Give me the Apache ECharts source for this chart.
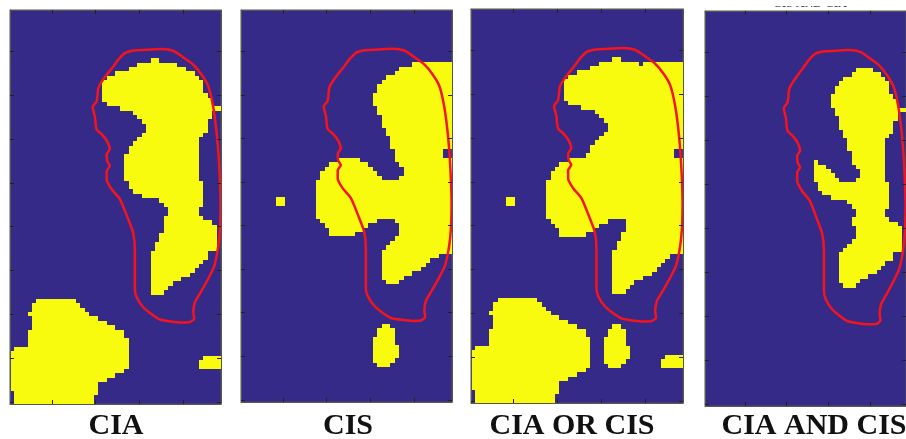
<!DOCTYPE html>
<html>
<head>
<meta charset="utf-8">
<script src="https://cdn.jsdelivr.net/npm/echarts@6/dist/echarts.min.js"></script>
<style>
html,body{margin:0;padding:0;background:#fff}
#main{width:906px;height:439px}
</style>
</head>
<body>
<div id="main"></div>
<script>
// image size in pixels (columns x rows)
var nCols = 48, nRows = 90;
var panelTitles = ['CIA', 'CIS', 'CIA OR CIS', 'CIA AND CIS'];
var xTicks = [10, 20, 30, 40];
var yTicks = [10, 20, 30, 40, 50, 60, 70, 80, 90];

// yellow runs: [rowFrom, rowTo, colFrom, colTo]
var ciaRuns = [
    [12, 12, 33, 34], [13, 13, 30, 38], [14, 14, 28, 40], [15, 15, 25, 42],
    [16, 16, 23, 43], [17, 19, 22, 44], [20, 20, 22, 45], [21, 21, 22, 46],
    [22, 22, 23, 46], [23, 23, 26, 48], [24, 24, 29, 46], [25, 25, 30, 46],
    [26, 26, 31, 45], [27, 28, 32, 45], [29, 29, 31, 44], [30, 30, 30, 43],
    [31, 31, 29, 43], [32, 33, 28, 43], [34, 39, 27, 43], [40, 41, 28, 44],
    [42, 42, 29, 44], [43, 43, 31, 44], [44, 44, 35, 44], [45, 45, 36, 44],
    [46, 47, 37, 43], [48, 48, 36, 44], [49, 49, 36, 46], [50, 51, 36, 47],
    [52, 53, 35, 47], [54, 55, 34, 47], [56, 57, 33, 45], [58, 58, 33, 44],
    [59, 59, 33, 43], [60, 60, 33, 42], [61, 61, 33, 41], [62, 62, 33, 39],
    [63, 63, 33, 37], [64, 64, 33, 36], [65, 65, 33, 35],
    // lower left blob
    [67, 67, 7, 15], [68, 68, 6, 16], [69, 69, 6, 17], [70, 70, 5, 18],
    [71, 71, 6, 20], [72, 72, 6, 22], [73, 73, 6, 24], [74, 75, 5, 26],
    [76, 77, 5, 27], [78, 78, 2, 27], [79, 82, 1, 27], [83, 83, 1, 26],
    [84, 84, 1, 24], [85, 85, 1, 22], [86, 87, 1, 20], [88, 88, 2, 20],
    [89, 90, 2, 19],
    // small patch bottom right
    [80, 80, 45, 48], [81, 82, 44, 48]
];

var cisRuns = [
    [13, 13, 40, 48], [14, 14, 37, 48], [15, 15, 36, 48], [16, 16, 34, 48],
    [17, 17, 33, 48], [18, 19, 32, 48], [20, 22, 31, 48], [23, 24, 32, 48],
    [25, 27, 33, 48], [28, 29, 34, 48], [30, 32, 35, 48], [33, 34, 36, 46],
    [35, 35, 23, 27], [35, 35, 36, 48], [36, 36, 21, 29], [36, 36, 37, 48],
    [37, 37, 20, 30], [37, 37, 38, 48], [38, 38, 19, 31], [38, 38, 38, 48],
    [39, 39, 19, 32], [39, 39, 37, 48], [40, 48, 18, 48],
    [49, 49, 19, 31], [49, 49, 36, 48], [50, 50, 20, 29], [50, 50, 37, 48],
    [51, 51, 21, 28], [51, 51, 37, 48], [52, 52, 21, 26], [52, 52, 37, 48],
    [53, 53, 36, 48], [54, 54, 35, 48], [55, 55, 34, 48], [56, 56, 33, 48],
    [57, 57, 33, 45], [58, 58, 33, 43], [59, 59, 33, 42], [60, 60, 33, 41],
    [61, 61, 33, 39], [62, 62, 33, 37], [63, 63, 34, 36],
    // oval
    [73, 73, 33, 34], [74, 75, 32, 35], [76, 77, 31, 35], [78, 80, 31, 36],
    [81, 81, 31, 35], [82, 82, 32, 34],
    // single small square
    [44, 45, 9, 10]
];

// red outline [col, row]
var roiLine = [
    [28.2, 9.8], [35.0, 9.4], [37.6, 9.8], [39.9, 11.3], [42.2, 13.0], [44.1, 15.3],
    [45.6, 17.9], [46.7, 22.5], [47.5, 28.5], [48.0, 34.6], [48.3, 40.7], [48.4, 44.8],
    [48.3, 49.8], [47.9, 54.3], [47.0, 58.9], [45.6, 61.9], [43.7, 65.3], [42.6, 67.2],
    [42.2, 69.5], [42.4, 71.0], [41.4, 71.8], [39.6, 71.9], [34.6, 71.2], [33.1, 70.3],
    [30.8, 68.4], [29.3, 66.1], [28.9, 64.2], [28.9, 55.1], [28.5, 51.3], [27.4, 48.3],
    [25.5, 43.7], [23.6, 41.4], [22.5, 39.2], [22.5, 37.3], [23.2, 36.1], [22.6, 35.0],
    [22.5, 33.5], [23.2, 32.3], [22.6, 30.5], [21.4, 28.9], [20.2, 27.8], [19.8, 24.8],
    [19.3, 22.6], [20.2, 21.4], [20.6, 18.3], [21.4, 16.8], [22.5, 15.3], [24.0, 13.4],
    [25.1, 11.9], [26.7, 10.3], [28.2, 9.8]
];

function toMask(runs) {
    var m = [];
    for (var r = 0; r <= nRows + 1; r++) m.push([]);
    runs.forEach(function (t) {
        for (var r = t[0]; r <= t[1]; r++)
            for (var c = t[2]; c <= t[3]; c++) m[r][c] = 1;
    });
    return m;
}
function toRuns(m) {
    var out = [];
    for (var r = 1; r <= nRows; r++) {
        var c = 1;
        while (c <= nCols) {
            if (m[r][c]) {
                var s = c;
                while (c <= nCols && m[r][c]) c++;
                out.push([r, r, s, c - 1]);
            } else c++;
        }
    }
    return out;
}
var ciaMask = toMask(ciaRuns);
var cisMask = toMask(cisRuns);
var orMask = [], andMask = [];
for (var r = 0; r <= nRows + 1; r++) {
    orMask.push([]); andMask.push([]);
    for (var c = 0; c <= nCols + 1; c++) {
        orMask[r][c] = (ciaMask[r][c] || cisMask[r][c]) ? 1 : 0;
        andMask[r][c] = (ciaMask[r][c] && cisMask[r][c]) ? 1 : 0;
    }
}
var panelRuns = [toRuns(ciaMask), toRuns(cisMask), toRuns(orMask), toRuns(andMask)];

var boxes = [
    { left: 10, top: 10, width: 211, height: 394 },
    { left: 241, top: 10, width: 211, height: 392 },
    { left: 471, top: 9, width: 212, height: 394 },
    { left: 705, top: 11, width: 211, height: 395 }
];
var titleX = [116, 348, 572, 814];

var blue = '#352a87', yellow = '#f9fb0e';

function renderCell(params, api) {
    var p0 = api.coord([api.value(2) - 0.5, api.value(0) - 0.5]);
    var p1 = api.coord([api.value(3) + 0.5, api.value(1) + 0.5]);
    var x0 = Math.round(Math.min(p0[0], p1[0])), x1 = Math.round(Math.max(p0[0], p1[0]));
    var y0 = Math.round(Math.min(p0[1], p1[1])), y1 = Math.round(Math.max(p0[1], p1[1]));
    return {
        type: 'rect',
        shape: { x: x0, y: y0, width: x1 - x0, height: y1 - y0 },
        style: { fill: yellow }
    };
}

var grid = [], xAxis = [], yAxis = [], series = [], graphic = [];
var tickStyle = { color: '#222', width: 1 };
var lineStyleAx = { color: '#555', width: 1 };
boxes.forEach(function (b, i) {
    grid.push({
        left: b.left, top: b.top, width: b.width, height: b.height,
        show: true, backgroundColor: blue, borderColor: '#555', borderWidth: 1
    });
    ['bottom', 'top'].forEach(function (pos) {
        xAxis.push({
            gridIndex: i, type: 'value', position: pos, min: 0.5, max: nCols + 0.5, z: 5,
            axisLine: { show: true, onZero: false, lineStyle: lineStyleAx },
            axisTick: { show: true, inside: true, length: 4, customValues: xTicks, lineStyle: tickStyle },
            axisLabel: { show: false }, splitLine: { show: false }
        });
    });
    ['left', 'right'].forEach(function (pos) {
        yAxis.push({
            gridIndex: i, type: 'value', position: pos, inverse: true, min: 0.5, max: nRows + 0.5, z: 5,
            axisLine: { show: true, onZero: false, lineStyle: lineStyleAx },
            axisTick: { show: true, inside: true, length: 4, customValues: yTicks, lineStyle: tickStyle },
            axisLabel: { show: false }, splitLine: { show: false }
        });
    });
    series.push({
        type: 'custom', name: panelTitles[i], xAxisIndex: 2 * i, yAxisIndex: 2 * i,
        renderItem: renderCell, data: panelRuns[i],
        encode: { x: [2, 3], y: [0, 1] }, z: 2, silent: true, animation: false
    });
    series.push({
        type: 'line', xAxisIndex: 2 * i, yAxisIndex: 2 * i, data: roiLine,
        showSymbol: false, symbol: 'none', smooth: 0.2, z: 3, silent: true, animation: false,
        lineStyle: { color: '#f5141e', width: 2.5 }
    });
    graphic.push({
        type: 'text', x: titleX[i], y: 426,
        style: {
            text: panelTitles[i], fill: '#111', align: 'center', verticalAlign: 'middle',
            font: 'bold 30px "Liberation Serif", "DejaVu Serif", serif'
        }
    });
});

// cut-off heading remnant above the last panel
graphic.push({
    type: 'text', x: 810, y: 10,
    style: { text: 'CIS AND CIA', fill: '#445', align: 'center', verticalAlign: 'bottom',
        font: 'bold 12px "Liberation Serif", serif' }
});
graphic.push({
    type: 'rect', shape: { x: 760, y: -5, width: 100, height: 11 }, style: { fill: '#fff' }
});

var myChart = echarts.init(document.getElementById('main'));
myChart.setOption({
    animation: false,
    grid: grid,
    xAxis: xAxis,
    yAxis: yAxis,
    series: series,
    graphic: graphic
});
</script>
</body>
</html>
